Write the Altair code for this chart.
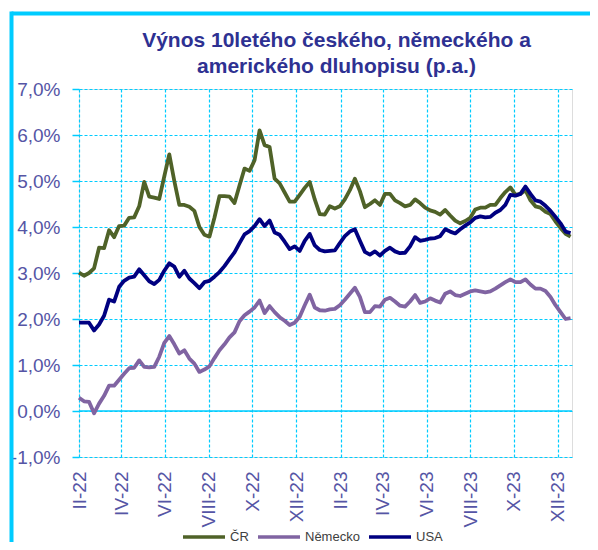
import altair as alt
import pandas as pd

# ---- data (weekly, from 1 Feb 2022) ----
dates = pd.date_range("2022-02-01", periods=99, freq="7D").strftime("%Y-%m-%dT00:00").tolist()

cz = [3.01, 2.94, 3.00, 3.10, 3.55, 3.54, 3.93, 3.78, 4.02, 4.03,
      4.20, 4.21, 4.45, 4.98, 4.66, 4.64, 4.61, 5.10, 5.58, 5.00,
      4.48, 4.48, 4.44, 4.35, 4.00, 3.83, 3.79, 4.20, 4.67, 4.67,
      4.66, 4.52, 4.90, 5.27, 5.22, 5.45, 6.10, 5.78, 5.74, 5.05,
      4.95, 4.75, 4.55, 4.55, 4.70, 4.85, 4.98, 4.60, 4.28, 4.27,
      4.45, 4.40, 4.45, 4.60, 4.80, 5.05, 4.78, 4.43, 4.50, 4.58,
      4.48, 4.72, 4.72, 4.58, 4.52, 4.45, 4.48, 4.60, 4.52, 4.42,
      4.36, 4.33, 4.27, 4.37, 4.25, 4.14, 4.08, 4.13, 4.20, 4.38,
      4.42, 4.42, 4.48, 4.48, 4.63, 4.76, 4.86, 4.70, 4.72, 4.80,
      4.58, 4.45, 4.42, 4.33, 4.28, 4.12, 3.98, 3.85, 3.79]

de = [0.29, 0.21, 0.20, -0.05, 0.16, 0.33, 0.55, 0.55, 0.68, 0.81,
      0.93, 0.94, 1.10, 0.96, 0.95, 0.96, 1.18, 1.48, 1.63, 1.45,
      1.25, 1.32, 1.14, 1.03, 0.85, 0.90, 0.97, 1.15, 1.32, 1.45,
      1.60, 1.71, 1.95, 2.08, 2.16, 2.25, 2.40, 2.13, 2.28, 2.15,
      2.04, 1.96, 1.87, 1.92, 2.05, 2.30, 2.53, 2.25, 2.19, 2.18,
      2.21, 2.22, 2.30, 2.42, 2.55, 2.68, 2.48, 2.15, 2.15, 2.28,
      2.27, 2.42, 2.46, 2.38, 2.29, 2.27, 2.38, 2.52, 2.35, 2.38,
      2.45, 2.40, 2.36, 2.55, 2.60, 2.52, 2.50, 2.55, 2.60, 2.62,
      2.60, 2.58, 2.60, 2.66, 2.73, 2.80, 2.86, 2.80, 2.80, 2.86,
      2.75, 2.66, 2.66, 2.61, 2.48, 2.30, 2.15, 2.00, 2.02]

us = [1.92, 1.92, 1.92, 1.75, 1.88, 2.07, 2.42, 2.38, 2.70, 2.83,
      2.90, 2.92, 3.08, 2.95, 2.82, 2.76, 2.85, 3.05, 3.21, 3.14,
      2.92, 3.05, 2.88, 2.78, 2.67, 2.80, 2.83, 2.92, 3.02, 3.15,
      3.30, 3.45, 3.65, 3.84, 3.91, 4.02, 4.17, 4.02, 4.14, 3.88,
      3.83, 3.68, 3.52, 3.58, 3.48, 3.70, 3.85, 3.60, 3.50, 3.47,
      3.48, 3.49, 3.65, 3.80, 3.90, 3.95, 3.70, 3.46, 3.40, 3.47,
      3.38, 3.48, 3.55, 3.47, 3.43, 3.44, 3.58, 3.78, 3.70, 3.72,
      3.75, 3.76, 3.80, 3.95, 3.90, 3.86, 3.95, 4.03, 4.10, 4.20,
      4.23, 4.21, 4.22, 4.31, 4.37, 4.48, 4.70, 4.68, 4.72, 4.88,
      4.72, 4.58, 4.55, 4.46, 4.35, 4.22, 4.08, 3.90, 3.87]

series_names = ["ČR", "Německo", "USA"]
series_colors = ["#4F6228", "#8064A2", "#000080"]
x_tick_months = [(2022, 2), (2022, 4), (2022, 6), (2022, 8), (2022, 10), (2022, 12),
                 (2023, 2), (2023, 4), (2023, 6), (2023, 8), (2023, 10), (2023, 12)]
y_ticks = [-1, 0, 1, 2, 3, 4, 5, 6, 7]
title_lines = ["Výnos 10letého českého, německého a", "amerického dluhopisu (p.a.)"]

rows = []
for name, vals in zip(series_names, [cz, de, us]):
    for d, v in zip(dates, vals):
        rows.append({"date": d, "series": name, "value": v})
df = pd.DataFrame(rows)

CYAN = "#00CCFF"
LABEL_COLOR = "#5555A5"
NARROW = "Liberation Sans Narrow, Liberation Sans, Arial"

x_enc = alt.X(
    "date:T",
    scale=alt.Scale(domain=[alt.DateTime(year=2022, month=2, date=1),
                            alt.DateTime(year=2023, month=12, date=21)]),
    axis=alt.Axis(
        values=[alt.DateTime(year=y, month=m, date=1) for y, m in x_tick_months],
        labelExpr="['I','II','III','IV','V','VI','VII','VIII','IX','X','XI','XII'][month(datum.value)] + '-' + timeFormat(datum.value, '%y')",
        labelAngle=270, labelAlign="right", labelBaseline="middle",
        labelFlush=False, labelOverlap=False, labelBound=False,
        labelFont=NARROW, labelFontSize=19, labelColor=LABEL_COLOR, labelPadding=14,
        ticks=False, tickSize=0, domain=False,
        grid=True, gridColor=CYAN, gridDash=[3, 2], gridWidth=1.2,
    ),
    title=None,
)
y_enc = alt.Y(
    "value:Q",
    scale=alt.Scale(domain=[-1, 7], nice=False, zero=False),
    axis=alt.Axis(
        values=y_ticks, labelExpr="datum.value + ',0%'",
        labelFont=NARROW, labelFontSize=19, labelColor=LABEL_COLOR, labelPadding=12,
        ticks=True, tickColor=CYAN, tickSize=7, tickWidth=1.5, domain=False,
        grid=True, gridColor=CYAN, gridDash=[3, 2], gridWidth=1.2,
    ),
    title=None,
)
color_enc = alt.Color(
    "series:N",
    scale=alt.Scale(domain=series_names, range=series_colors),
    legend=alt.Legend(
        orient="none", legendX=102, legendY=425, direction="horizontal",
        symbolType="stroke", symbolSize=1764, symbolStrokeWidth=3.5,
        labelFont="Liberation Sans, Arial", labelFontSize=13, labelColor="#404040",
        labelOffset=3, columnPadding=2, padding=0, title=None,
    ),
)

one = alt.Chart(pd.DataFrame({"k": [0]}))
frame_top = one.mark_rule(color=CYAN, strokeWidth=4).encode(
    x=alt.value(-67.5), x2=alt.value(530), y=alt.value(-75.5))
frame_left = one.mark_rule(color=CYAN, strokeWidth=4).encode(
    x=alt.value(-67.5), y=alt.value(-77.5), y2=alt.value(470))

title_style = dict(font="Liberation Sans, Arial", fontSize=21, fontWeight="bold",
                   color="#2E3192", align="center", baseline="alphabetic")
title_1 = alt.Chart(pd.DataFrame({"line": [title_lines[0]]})).mark_text(**title_style).encode(
    text="line:N", x=alt.value(257.5), y=alt.value(-42))
title_2 = alt.Chart(pd.DataFrame({"line": [title_lines[1]]})).mark_text(**title_style).encode(
    text="line:N", x=alt.value(257.5), y=alt.value(-16))

zero_line = alt.Chart(pd.DataFrame({"value": [0]})).mark_rule(color=CYAN, strokeWidth=1.5).encode(
    y=y_enc)

lines = [
    alt.Chart(df).transform_filter(alt.datum.series == name)
    .mark_line(strokeWidth=3.8, strokeJoin="round")
    .encode(x=x_enc, y=y_enc, color=color_enc)
    for name in series_names
]

chart = alt.layer(frame_top, frame_left, zero_line, *lines, title_1, title_2).properties(
    width=493, height=368,
    autosize=alt.AutoSizeParams(type="none"),
    padding={"left": 71, "top": 81, "right": 18, "bottom": 85},
).configure_view(stroke=CYAN, strokeWidth=2).configure(background="white")

chart.save("out.html", embed_options={"renderer": "svg", "actions": False})
